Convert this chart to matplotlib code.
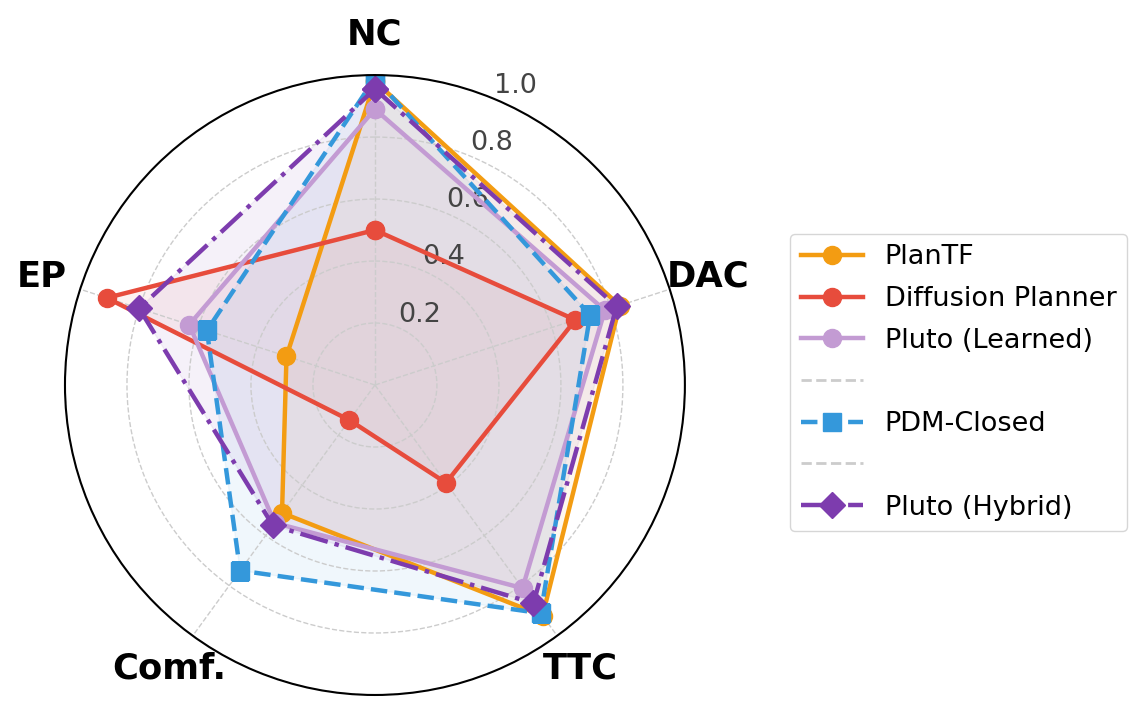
import numpy as np
import matplotlib
matplotlib.use('Agg')
import matplotlib.pyplot as plt
from matplotlib.lines import Line2D

categories = ['NC', 'DAC', 'TTC', 'Comf.', 'EP']

plantf = [0.98, 0.83, 0.92, 0.51, 0.30]
diffusion = [0.50, 0.68, 0.39, 0.14, 0.91]
pluto_learned = [0.89, 0.78, 0.81, 0.55, 0.63]
pdm_closed = [0.99, 0.73, 0.91, 0.74, 0.57]
pluto_hybrid = [0.955, 0.82, 0.87, 0.56, 0.80]

series = [
    ('PlanTF', plantf, '#f39c12', '-', 'o'),
    ('Diffusion Planner', diffusion, '#e74c3c', '-', 'o'),
    ('Pluto (Learned)', pluto_learned, '#c39bd3', '-', 'o'),
    ('PDM-Closed', pdm_closed, '#3498db', '--', 's'),
    ('Pluto (Hybrid)', pluto_hybrid, '#7d3cae', '-.', 'D'),
]

n = len(categories)
angles = np.linspace(0, 2 * np.pi, n, endpoint=False).tolist()
angles_c = angles + angles[:1]

fig = plt.figure(figsize=(11.48, 7.13), dpi=100)
ax = fig.add_axes([0.0566, 0.0252, 0.540, 0.8696], polar=True)
ax.set_theta_offset(np.pi / 2)
ax.set_theta_direction(-1)

lines = {}
for name, vals, col, ls, mk in series:
    v = vals + vals[:1]
    ln, = ax.plot(angles_c, v, color=col, linestyle=ls, linewidth=3.2,
                  marker=mk, markersize=13, label=name)
    ax.fill(angles_c, v, color=col, alpha=0.07)
    lines[name] = ln

ax.set_ylim(0, 1.0)
ax.set_yticks([0.2, 0.4, 0.6, 0.8, 1.0])
ax.set_yticklabels(['0.2', '0.4', '0.6', '0.8', '1.0'], fontsize=19.5, color='#444444')
ax.set_rlabel_position(22.5)
ax.set_xticks(angles)
ax.set_xticklabels([])
ax.grid(color='#cccccc', linestyle='--', linewidth=1)
ax.spines['polar'].set_color('black')
ax.spines['polar'].set_linewidth(1.5)

for ang, lab in zip(angles, categories):
    ax.text(ang, 1.13, lab, fontsize=25.5, fontweight='bold', ha='center', va='center')

sep = Line2D([0], [0], color='#cccccc', linestyle='--', linewidth=2)
handles = [lines['PlanTF'], lines['Diffusion Planner'], lines['Pluto (Learned)'],
           sep, lines['PDM-Closed'], sep, lines['Pluto (Hybrid)']]
labels = ['PlanTF', 'Diffusion Planner', 'Pluto (Learned)', '', 'PDM-Closed', '', 'Pluto (Hybrid)']
fig.legend(handles, labels, loc='center left', bbox_to_anchor=(0.688, 0.4635),
           borderaxespad=0, fontsize=19.5, handlelength=2.3, labelspacing=0.58,
           frameon=True, edgecolor='#cccccc')

fig.savefig('out.png', dpi=100)
